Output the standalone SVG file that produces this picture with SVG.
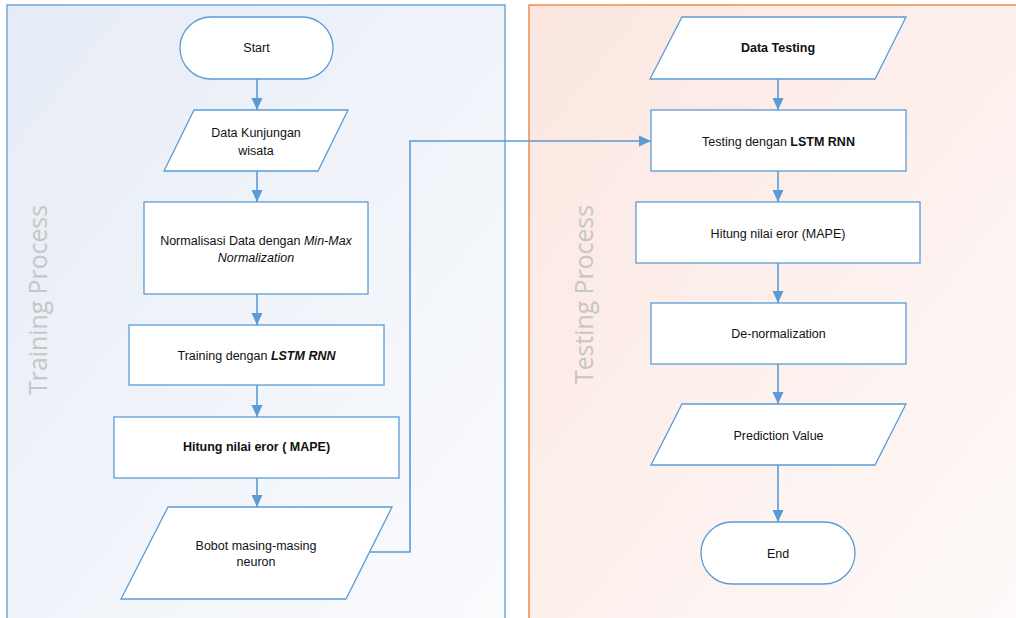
<svg xmlns="http://www.w3.org/2000/svg" width="1016" height="618" viewBox="0 0 1016 618">
<defs>
<linearGradient id="gl" x1="0" y1="0" x2="1" y2="1">
<stop offset="0" stop-color="#e6ecf6"/>
<stop offset="1" stop-color="#fafbfd"/>
</linearGradient>
<linearGradient id="gr" x1="0" y1="0" x2="1" y2="1">
<stop offset="0" stop-color="#fbe6e0"/>
<stop offset="1" stop-color="#fefaf9"/>
</linearGradient>
<marker id="ah" markerUnits="userSpaceOnUse" markerWidth="12" markerHeight="12" viewBox="0 0 12 12" refX="12" refY="6" orient="auto">
<path d="M0,0.5 L12,6 L0,11.5 Z" fill="#5b9bd5"/>
</marker>
<style>
.nd{fill:#ffffff;stroke:#5b9bd5;stroke-width:1.3}
.cn{fill:none;stroke:#5b9bd5;stroke-width:1.6}
.t{font-family:"Liberation Sans",Arial,sans-serif;font-size:12.5px;fill:#111;text-anchor:middle;dominant-baseline:central}
.lab{font-family:"Open Sans","Liberation Sans",sans-serif;font-size:24.8px;fill:#c6c6c6;text-anchor:end;dominant-baseline:central}
</style>
</defs>
<g id="panels">
<rect x="7" y="5" width="498" height="620" fill="url(#gl)" stroke="#5b9bd5" stroke-width="1.3"/>
<rect x="529" y="5" width="495" height="620" fill="url(#gr)" stroke="#ed7d31" stroke-width="1.3"/>
<text class="lab" transform="translate(37,205) rotate(-90)">Training Process</text>
<text class="lab" transform="translate(583,205) rotate(-90)">Testing Process</text>
</g>
<g id="connectors">
<line class="cn" x1="257" y1="79" x2="257" y2="110" marker-end="url(#ah)"/>
<line class="cn" x1="257" y1="171" x2="257" y2="202" marker-end="url(#ah)"/>
<line class="cn" x1="257" y1="294" x2="257" y2="325" marker-end="url(#ah)"/>
<line class="cn" x1="257" y1="385" x2="257" y2="417" marker-end="url(#ah)"/>
<line class="cn" x1="257" y1="478" x2="257" y2="507" marker-end="url(#ah)"/>
<polyline class="cn" points="369,552 410,552 410,141 651,141" marker-end="url(#ah)"/>
<line class="cn" x1="778" y1="79" x2="778" y2="110" marker-end="url(#ah)"/>
<line class="cn" x1="778" y1="171" x2="778" y2="202" marker-end="url(#ah)"/>
<line class="cn" x1="778" y1="263" x2="778" y2="303" marker-end="url(#ah)"/>
<line class="cn" x1="778" y1="364" x2="778" y2="404" marker-end="url(#ah)"/>
<line class="cn" x1="778" y1="465" x2="778" y2="522" marker-end="url(#ah)"/>
</g>
<g id="start">
<rect class="nd" x="180" y="17" width="153" height="62" rx="31" ry="31"/>
<text class="t" x="256.5" y="48">Start</text>
</g>
<g id="data-kunjungan">
<polygon class="nd" points="194,110 348,110 318,171 164,171"/>
<text class="t" x="256" y="133">Data Kunjungan</text>
<text class="t" x="256" y="151">wisata</text>
</g>
<g id="normalisasi">
<rect class="nd" x="144" y="202" width="224" height="92"/>
<text class="t" x="256" y="241">Normalisasi Data dengan <tspan font-style="italic">Min-Max</tspan></text>
<text class="t" x="256" y="258" font-style="italic">Normalization</text>
</g>
<g id="training">
<rect class="nd" x="129" y="325" width="255" height="60"/>
<text class="t" x="256.5" y="356">Training dengan <tspan font-weight="bold" font-style="italic">LSTM RNN</tspan></text>
</g>
<g id="hitung-train">
<rect class="nd" x="114" y="417" width="285" height="61"/>
<text class="t" x="256.5" y="447" font-weight="bold">Hitung nilai eror ( MAPE)</text>
</g>
<g id="bobot">
<polygon class="nd" points="168,507 392,507 346,599 121,599"/>
<text class="t" x="256" y="546">Bobot masing-masing</text>
<text class="t" x="256" y="562">neuron</text>
</g>
<g id="data-testing">
<polygon class="nd" points="682,17 906,17 875,79 650,79"/>
<text class="t" x="778" y="48" font-weight="bold">Data Testing</text>
</g>
<g id="testing">
<rect class="nd" x="651" y="110" width="255" height="61"/>
<text class="t" x="778.5" y="142">Testing dengan <tspan font-weight="bold">LSTM RNN</tspan></text>
</g>
<g id="hitung-test">
<rect class="nd" x="636" y="202" width="284" height="61"/>
<text class="t" x="778" y="234">Hitung nilai eror (MAPE)</text>
</g>
<g id="denorm">
<rect class="nd" x="651" y="303" width="255" height="61"/>
<text class="t" x="778.5" y="334">De-normalization</text>
</g>
<g id="prediction">
<polygon class="nd" points="682,404 906,404 875,465 651,465"/>
<text class="t" x="778.5" y="436">Prediction Value</text>
</g>
<g id="end">
<rect class="nd" x="701" y="522" width="154" height="62" rx="31" ry="31"/>
<text class="t" x="778" y="554">End</text>
</g>
</svg>
